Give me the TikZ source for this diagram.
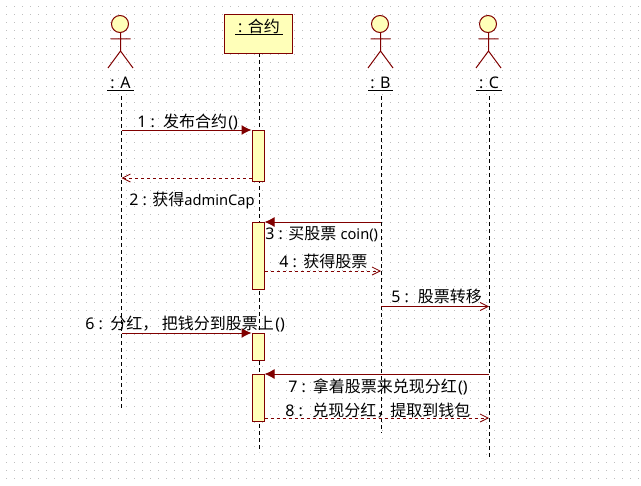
\documentclass[tikz,border=0pt]{standalone}
\usepackage{fontspec}
\setmainfont{Noto Sans}
\newfontfamily\cjk{Noto Sans CJK SC}
\usetikzlibrary{arrows.meta}
\definecolor{umlline}{RGB}{128,0,0}
\definecolor{umlfill}{RGB}{255,255,185}
\definecolor{griddot}{RGB}{190,190,190}
\newcommand{\zh}[1]{{\cjk #1}}
\newcommand{\lat}[1]{{\fontsize{11pt}{14pt}\selectfont #1}}
\newcommand{\actorfig}[2]{%
  \draw[umlline,fill=umlfill,line width=0.75pt] (#1,-24) circle[radius=8.5];
  \draw[umlline,line width=0.75pt] (#1+0.5,-32.5) -- (#1+0.5,-51)
    (#1-9.5,-39) -- (#1+10.5,-39)
    (#1-12,-68) -- (#1+0.5,-51) -- (#1+13,-68);}
\tikzset{
  x=0.75pt,y=0.75pt,
  lifeline/.style={black,line width=0.75pt,dash pattern=on 3pt off 2.25pt},
  activation/.style={draw=umlline,fill=umlfill,line width=0.75pt,minimum width=9pt,inner sep=0pt,anchor=north},
  msgbase/.style={umlline,line width=0.75pt},
  callmsg/.style={msgbase,-{Latex[length=7.5pt,width=7.5pt]}},
  asyncmsg/.style={msgbase,-{Straight Barb[length=6pt,width=6pt,line width=0.6pt]}},
  returnmsg/.style={msgbase,dash pattern=on 2.25pt off 2.25pt,-{Straight Barb[length=6pt,width=6pt,line width=0.6pt]}},
  msglabel/.style={font=\fontsize{12pt}{14pt}\selectfont,inner sep=0pt,anchor=base west,text=black},
  actorname/.style={font=\fontsize{12pt}{14pt}\selectfont,inner sep=0pt,anchor=base,text=black},
}
\begin{document}
\begin{tikzpicture}
\useasboundingbox (0,0) rectangle (641,-485);
\fill[white] (0,0) rectangle (641,-485);
\foreach \i in {0,...,79}{\foreach \j in {0,...,59}{
  \fill[griddot] (6+8*\i,-6-8*\j) rectangle +(1,-1);}}
% lifelines ends
\coordinate (aTop) at (121.5,-96);   \coordinate (aEnd) at (121.5,-409);
\coordinate (kTop) at (259,-53);     \coordinate (kEnd) at (259,-452);
\coordinate (bTop) at (381,-96);     \coordinate (bEnd) at (381,-433);
\coordinate (cTop) at (489,-96);     \coordinate (cEnd) at (489,-458);
\draw[lifeline] (aTop) -- (aEnd);
\draw[lifeline] (kTop) -- (kEnd);
\draw[lifeline] (bTop) -- (bEnd);
\draw[lifeline] (cTop) -- (cEnd);
% actors
\actorfig{120}{A}
\actorfig{380}{B}
\actorfig{488}{C}
\node[actorname] (nameA) at (120.5,-88) {: A};
\node[actorname] (nameB) at (380.5,-88) {: B};
\node[actorname] (nameC) at (489,-88) {: C};
\draw[black,line width=0.75pt] (107,-90) -- (134,-90) (368,-90) -- (393,-90) (476,-90) -- (502,-90);
% contract
\node[draw=umlline,fill=umlfill,line width=0.75pt,minimum width=51pt,minimum height=29.25pt,inner sep=0pt,anchor=north west] (contract) at (224,-14) {};
\node[actorname] (nameK) at (259,-33) {: \zh{合约}};
\draw[black,line width=0.75pt] (235,-35) -- (283,-35);
% activations
\node[activation,minimum height=38.25pt] (act1) at (258,-130) {};
\node[activation,minimum height=50.25pt] (act2) at (258,-222) {};
\node[activation,minimum height=20.25pt] (act3) at (258,-333) {};
\node[activation,minimum height=35.25pt] (act4) at (258,-374) {};
% message ends
\coordinate (m1a) at (121.5,-130);
\coordinate (m2a) at (121.5,-178);
\coordinate (m3b) at (381,-222);
\coordinate (m4b) at (381,-271);
\coordinate (m5b) at (381,-306.5);
\coordinate (m5c) at (489,-306.5);
\coordinate (m6a) at (121.5,-333);
\coordinate (m7c) at (489,-374);
\coordinate (m8c) at (489,-418);
\draw[callmsg] (m1a) -- (m1a -| act1.west);
\draw[returnmsg] (m2a -| act1.west) -- (m2a);
\draw[callmsg] (m3b) -- (m3b -| act2.east);
\draw[returnmsg] (m4b -| act2.east) -- (m4b);
\draw[asyncmsg] (m5b) -- (m5c);
\draw[callmsg] (m6a) -- (m6a -| act3.west);
\draw[callmsg] (m7c) -- (m7c -| act4.east);
\draw[returnmsg] (m8c -| act4.east) -- (m8c);
% labels
\node[msglabel] (l1) at (137,-127) {1 :\kern2pt{} \zh{发布合约}\kern1pt()};
\node[msglabel] (l2) at (129,-205) {2 : \zh{获得}\lat{adminCap}};
\node[msglabel] (l3) at (265,-239) {3 : \zh{买股票} \lat{coin()}};
\node[msglabel] (l4) at (279,-267) {4 :\kern0.7pt{} \zh{获得股票}};
\node[msglabel] (l5) at (391,-302) {5 :\kern2.5pt{} \zh{股票转移}};
\node[msglabel] (l6) at (85,-329) {6 :\kern1.5pt{} \zh{分红， 把钱分到股票上}\kern1pt()};
\node[msglabel] (l7) at (288,-392) {7 :\kern1pt{} \zh{拿着股票来兑现分红}\kern1pt()};
\node[msglabel] (l8) at (285,-416) {8 :\kern3pt{} \zh{兑现分红，\kern-1.5pt{}提取到钱包}};
\end{tikzpicture}
\end{document}
